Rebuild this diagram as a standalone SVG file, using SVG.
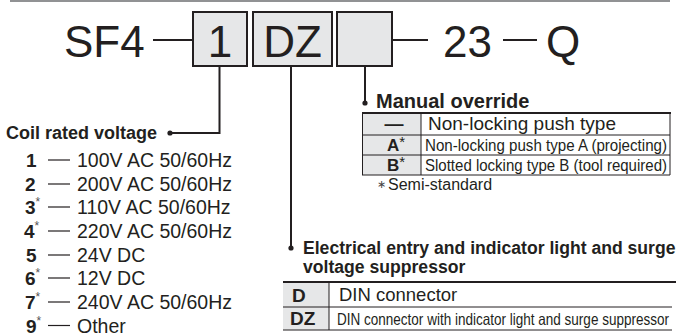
<svg xmlns="http://www.w3.org/2000/svg" width="680" height="336" viewBox="0 0 680 336">
<style>
text{font-family:"Liberation Sans",Arial,sans-serif;fill:#231f20}
.big{font-size:44px}
.hd{font-size:18px;font-weight:bold}
.it{font-size:19.5px}
.num{font-size:19px;font-weight:bold}
.ast{font-size:12px;fill:#555;font-weight:normal}
.sup{font-size:15px;font-weight:normal}
.cond{font-size:16.5px}
.box{fill:#e6e7e8;stroke:#231f20;stroke-width:2}
.conn{stroke:#231f20;stroke-width:2;fill:none}
.dash{stroke:#231f20;stroke-width:1.2}
.cell{fill:#e6e7e8}
.tl{stroke:#231f20;stroke-width:1}
.tk{stroke:#231f20;stroke-width:2}
</style>
<line x1="10" y1="1" x2="670" y2="1" stroke="#6d6e71" stroke-width="1.5"/>
<g id="code">
<text class="big" x="64" y="57">SF4</text>
<line class="conn" x1="153" y1="40" x2="193" y2="40" stroke-width="2.5"/>
<rect class="box" x="193" y="12" width="54" height="54"/>
<text class="big" x="220" y="57" text-anchor="middle">1</text>
<rect class="box" x="253" y="12" width="79" height="54"/>
<text class="big" x="292.5" y="57" text-anchor="middle">DZ</text>
<rect class="box" x="337" y="12" width="55" height="54"/>
<line class="conn" x1="392" y1="40" x2="428" y2="40" stroke-width="2.5"/>
<text class="big" x="443" y="57">23</text>
<line class="conn" x1="503" y1="40" x2="537" y2="40" stroke-width="2.5"/>
<text class="big" x="546" y="57">Q</text>
</g>
<g id="connectors">
<polyline class="conn" points="219.5,66 219.5,133 170,133"/>
<circle cx="170" cy="133" r="2.6" fill="#231f20"/>
<line class="conn" x1="291" y1="66" x2="291" y2="248"/>
<circle cx="291" cy="248" r="2.6" fill="#231f20"/>
<line class="conn" x1="365" y1="66" x2="365" y2="103"/>
<circle cx="365" cy="103" r="2.6" fill="#231f20"/>
</g>
<g id="coil">
<text class="hd" x="6" y="139">Coil rated voltage</text>
<text class="num" x="26" y="167">1</text>
<text class="num" x="25" y="191">2</text>
<text class="num" x="25" y="214">3<tspan class="ast" dy="-8">*</tspan></text>
<text class="num" x="24" y="238">4<tspan class="ast" dy="-8">*</tspan></text>
<text class="num" x="26" y="262">5</text>
<text class="num" x="25" y="285">6<tspan class="ast" dy="-8">*</tspan></text>
<text class="num" x="25" y="309">7<tspan class="ast" dy="-8">*</tspan></text>
<text class="num" x="26" y="332.5">9<tspan class="ast" dy="-8">*</tspan></text>
<g class="dash">
<line x1="48" y1="160" x2="70" y2="160"/>
<line x1="48" y1="184" x2="70" y2="184"/>
<line x1="48" y1="207" x2="70" y2="207"/>
<line x1="48" y1="231" x2="70" y2="231"/>
<line x1="48" y1="255" x2="70" y2="255"/>
<line x1="48" y1="278" x2="70" y2="278"/>
<line x1="48" y1="302" x2="70" y2="302"/>
<line x1="48" y1="325.5" x2="70" y2="325.5"/>
</g>
<text class="it" x="77" y="167">100V AC 50/60Hz</text>
<text class="it" x="77" y="191">200V AC 50/60Hz</text>
<text class="it" x="77" y="214">110V AC 50/60Hz</text>
<text class="it" x="77" y="238">220V AC 50/60Hz</text>
<text class="it" x="77" y="262">24V DC</text>
<text class="it" x="77" y="285">12V DC</text>
<text class="it" x="77" y="309">240V AC 50/60Hz</text>
<text class="it" x="77" y="332.5">Other</text>
</g>
<g id="manual">
<text class="hd" style="font-size:20px" x="376" y="108">Manual override</text>
<rect class="cell" x="362" y="113" width="59" height="62"/>
<line class="tk" x1="362" y1="113" x2="671" y2="113"/>
<line class="tl" x1="362" y1="135" x2="670" y2="135"/>
<line class="tl" x1="362" y1="155" x2="670" y2="155"/>
<line class="tl" x1="362" y1="175" x2="670" y2="175"/>
<line class="tl" x1="362.5" y1="113" x2="362.5" y2="175"/>
<line class="tl" x1="421" y1="113" x2="421" y2="175"/>
<line class="tl" x1="670" y1="113" x2="670" y2="175"/>
<text class="num" x="394" y="130" text-anchor="middle">—</text>
<text style="font-size:19px" x="428" y="129.5">Non-locking push type</text>
<text class="num" x="387" y="151" style="font-size:17px">A<tspan class="sup" dy="-4">*</tspan></text>
<text class="cond" x="425" y="150.5" textLength="242" lengthAdjust="spacingAndGlyphs">Non-locking push type A (projecting)</text>
<text class="num" x="387" y="171" style="font-size:17px">B<tspan class="sup" dy="-4">*</tspan></text>
<text class="cond" x="425" y="170.5" textLength="242" lengthAdjust="spacingAndGlyphs">Slotted locking type B (tool required)</text>
<text style="font-size:11px;fill:#444" x="377" y="188">∗</text>
<text style="font-size:16px" x="388" y="190">Semi-standard</text>
</g>
<g id="electrical">
<text class="hd" style="font-size:17.6px" x="303" y="254">Electrical entry and indicator light and surge</text>
<text class="hd" style="font-size:17.6px" x="303" y="273">voltage suppressor</text>
<rect class="cell" x="283" y="282" width="46" height="48"/>
<line class="tk" x1="283" y1="282" x2="676" y2="282"/>
<line class="tl" x1="283" y1="307" x2="672" y2="307"/>
<line class="tl" x1="283" y1="330" x2="672" y2="330"/>
<line class="tl" x1="329" y1="282" x2="329" y2="330"/>
<text class="num" x="292" y="302">D</text>
<text style="font-size:18.5px" x="339" y="301">DIN connector</text>
<text class="num" x="290" y="325">DZ</text>
<text style="font-size:16.5px" x="337" y="325" textLength="332" lengthAdjust="spacingAndGlyphs">DIN connector with indicator light and surge suppressor</text>
</g>
</svg>
